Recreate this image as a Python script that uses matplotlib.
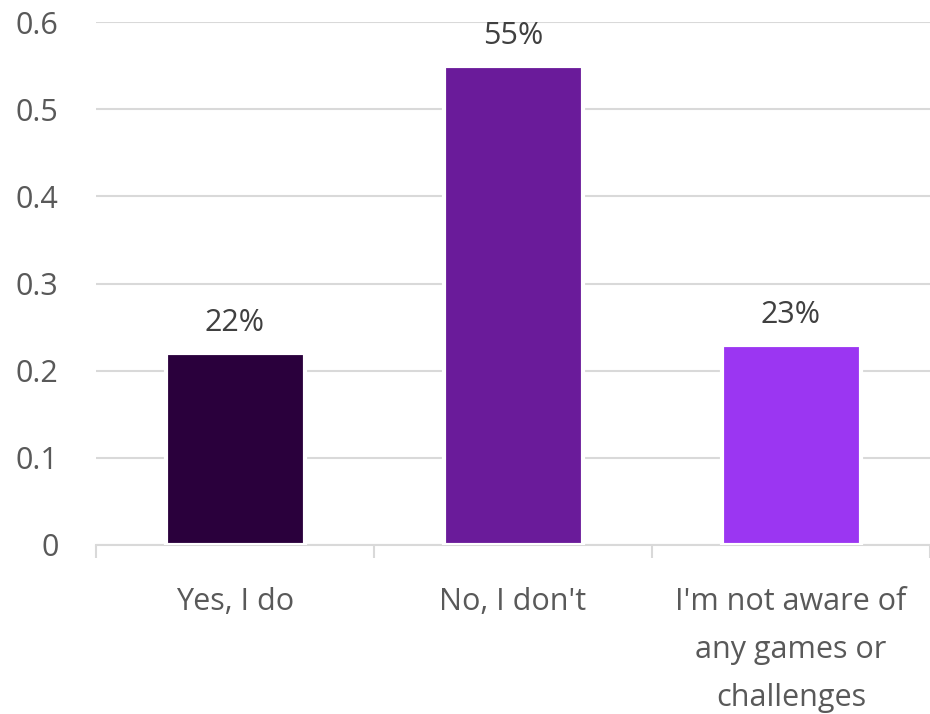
import matplotlib
matplotlib.use("Agg")
import matplotlib.pyplot as plt
import numpy as np

# Survey answers and their shares
answers = ["Yes, I do", "No, I don't", "I'm not aware of\nany games or\nchallenges"]
shares = [0.22, 0.55, 0.23]
bar_colors = ["#2a003c", "#6a1b9a", "#9b36f2"]
y_ticks = [0, 0.1, 0.2, 0.3, 0.4, 0.5, 0.6]
y_tick_labels = ["0", "0.1", "0.2", "0.3", "0.4", "0.5", "0.6"]

plt.rcParams["font.family"] = ["Open Sans", "DejaVu Sans"]

fig = plt.figure(figsize=(9.3, 7.14), dpi=100)
ax = fig.add_axes([96 / 930, 169 / 714, 834 / 930, 523 / 714])

x = np.arange(len(answers))
bars = ax.bar(x, shares, width=0.5, color=bar_colors, edgecolor="white",
              linewidth=3, zorder=3)

for bar, val in zip(bars, shares):
    ax.text(bar.get_x() + bar.get_width() / 2, val + 0.017, f"{val:.0%}",
            ha="center", va="bottom", fontsize=22, color="#404040")

ax.set_xlim(-0.5, len(answers) - 0.5)
ax.set_ylim(0, 0.6)
ax.set_yticks(y_ticks)
ax.set_yticklabels(y_tick_labels)
ax.set_xticks(x)
ax.set_xticklabels(answers, linespacing=1.8)
ax.set_xticks(np.arange(len(answers) + 1) - 0.5, minor=True)

ax.grid(axis="y", color="#d9d9d9", linewidth=1.5, zorder=0)
for side in ["top", "right", "left"]:
    ax.spines[side].set_visible(False)
ax.spines["bottom"].set_color("#d9d9d9")
ax.spines["bottom"].set_linewidth(1.5)

ax.tick_params(axis="y", length=0, pad=27, labelsize=22, labelcolor="#595959")
ax.tick_params(axis="x", which="major", length=0, pad=30, labelsize=22,
               labelcolor="#595959")
ax.tick_params(axis="x", which="minor", length=9, width=1.5, color="#d9d9d9")
for lbl in ax.get_xticklabels():
    lbl.set_verticalalignment("top")

fig.savefig("out.png", dpi=100, facecolor="white")
